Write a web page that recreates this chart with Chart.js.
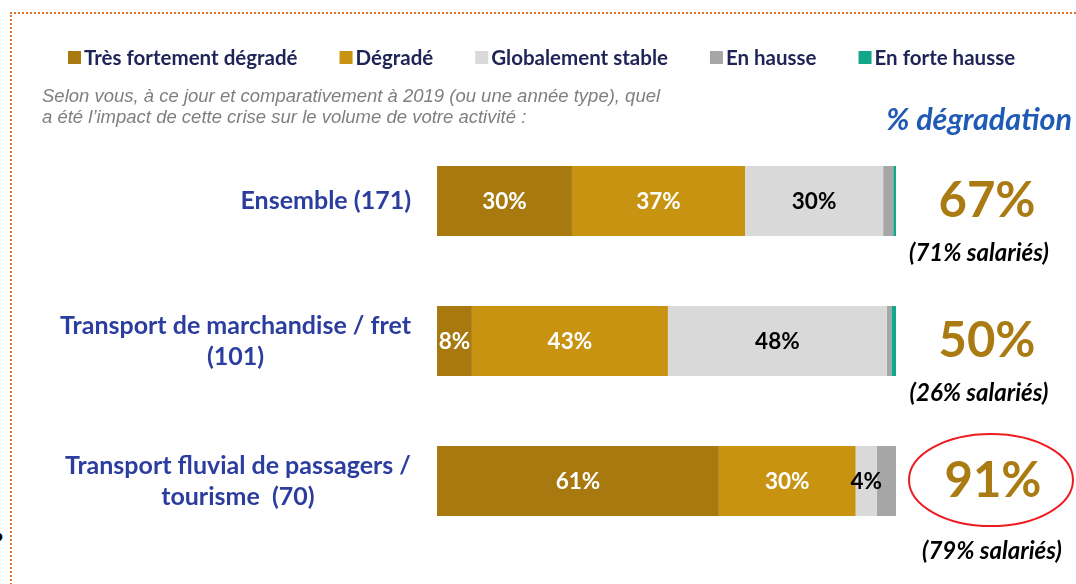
<!DOCTYPE html>
<html>
<head>
<meta charset="utf-8">
<script src="https://cdn.jsdelivr.net/npm/chart.js@4"></script>
<style>
  html, body { margin: 0; padding: 0; background: #fff; }
  #wrap { position: relative; width: 1076px; height: 584px; overflow: hidden; }
  #frame { position: absolute; left: 10px; top: 12px; right: -4px; bottom: -4px;
           border-top: 2px dotted #E2752E; border-left: 2px dotted #E2752E; }
  #cut { position: absolute; left: -7px; top: 528px; font: bold 22px Lato, sans-serif; color: #000; }
  canvas { position: absolute; left: 0; top: 0; }
</style>
</head>
<body>
<div id="wrap">
  <div id="frame"></div>
  <div id="cut">?</div>
  <canvas id="chart" width="1076" height="584"></canvas>
</div>
<script>
// categories (multi-line labels as in the source)
const categories = [
  ['Ensemble (171)'],
  ['Transport de marchandise / fret', '(101)'],
  ['Transport fluvial de passagers /', 'tourisme  (70)']
];

// series values (% of respondents)
const tresFortement = [29.4, 7.6, 61.4];
const degrade       = [37.7, 42.7, 29.8];
const stable        = [30.1, 47.7, 4.6];
const hausse        = [2.2, 1.0, 4.2];
const forteHausse   = [0.6, 1.0, 0];

// labels printed inside the segments
const tresFortementLabels = ['30%', '8%', '61%'];
const degradeLabels       = ['37%', '43%', '30%'];
const stableLabels        = ['30%', '48%', '4%'];

// right-hand column
const degradation = [67, 50, 91];
const salaries    = [71, 26, 79];

const subtitle = [
  'Selon vous, à ce jour et comparativement à 2019 (ou une année type), quel',
  'a été l\u2019impact de cette crise sur le volume de votre activité :'
];

const FONT = 'Lato, "Noto Sans", sans-serif';

const datasets = [
  { label: 'Très fortement dégradé', data: tresFortement, backgroundColor: '#A7790E', segLabels: tresFortementLabels, labelColor: '#fff' },
  { label: 'Dégradé', data: degrade, backgroundColor: '#C99312', segLabels: degradeLabels, labelColor: '#fff' },
  { label: 'Globalement stable', data: stable, backgroundColor: '#D9D9D9', segLabels: stableLabels, labelColor: '#000' },
  { label: 'En hausse', data: hausse, backgroundColor: '#A6A6A6' },
  { label: 'En forte hausse', data: forteHausse, backgroundColor: '#12A68A' }
];

const decorations = {
  id: 'decorations',
  afterDatasetsDraw(chart) {
    const ctx = chart.ctx;
    const y = chart.scales.y;
    ctx.save();

    // segment labels
    chart.data.datasets.forEach((ds, di) => {
      if (!ds.segLabels) return;
      const meta = chart.getDatasetMeta(di);
      meta.data.forEach((bar, i) => {
        const txt = ds.segLabels[i];
        if (!txt) return;
        ctx.font = 'bold 22.5px ' + FONT;
        ctx.fillStyle = ds.labelColor;
        ctx.textAlign = 'center';
        ctx.textBaseline = 'middle';
        ctx.fillText(txt, (bar.base + bar.x) / 2, bar.y + 1);
      });
    });

    // category labels: single line right aligned, multi-line centred
    ctx.font = 'bold 25px ' + FONT;
    ctx.fillStyle = '#2B3D9E';
    ctx.textBaseline = 'middle';
    const right = 411;
    categories.forEach((lines, i) => {
      const cy = y.getPixelForValue(i);
      if (lines.length === 1) {
        ctx.textAlign = 'right';
        ctx.fillText(lines[0], right, cy);
      } else {
        const w = Math.max(...lines.map(l => ctx.measureText(l).width));
        const cx = right - w / 2;
        ctx.textAlign = 'center';
        const lh = 31;
        lines.forEach((l, k) => ctx.fillText(l, cx, cy + (k - (lines.length - 1) / 2) * lh));
      }
    });

    // right column: % dégradation and salariés
    degradation.forEach((v, i) => {
      const cy = y.getPixelForValue(i);
      const cx = i === 2 ? 993 : 987;
      ctx.textAlign = 'center';
      ctx.font = 'bold 49px ' + FONT;
      ctx.fillStyle = '#A97B12';
      ctx.fillText(v + '%', cx, cy);
      ctx.font = 'italic bold 24px ' + FONT;
      ctx.fillStyle = '#000';
      const sx = i === 2 ? 992 : 979;
      const sy = i === 2 ? cy + 70 : cy + 52;
      ctx.fillText('(' + salaries[i] + '% salariés)', sx, sy);
    });

    // red ellipse around the last value
    const ey = y.getPixelForValue(2);
    ctx.beginPath();
    ctx.ellipse(991, ey - 1, 82, 46, 0, 0, Math.PI * 2);
    ctx.strokeStyle = '#EE1C22';
    ctx.lineWidth = 2;
    ctx.stroke();

    // header "% dégradation"
    ctx.font = 'italic bold 30.5px ' + FONT;
    ctx.fillStyle = '#1F5BB5';
    ctx.textAlign = 'right';
    ctx.fillText('% dégradation', 1072, 120);

    // subtitle
    ctx.font = 'italic 18.5px "Liberation Sans", Arial, sans-serif';
    ctx.fillStyle = '#7F7F7F';
    ctx.textAlign = 'left';
    ctx.fillText(subtitle[0], 42, 97);
    ctx.fillText(subtitle[1], 42, 118);

    // legend, built from the datasets
    ctx.font = 'bold 20.5px ' + FONT;
    let lx = 68;
    chart.data.datasets.forEach(ds => {
      ctx.fillStyle = ds.backgroundColor;
      ctx.fillRect(lx, 51, 13, 13);
      ctx.fillStyle = '#1E2456';
      ctx.textAlign = 'left';
      ctx.fillText(ds.label, lx + 16, 58);
      lx += 16 + ctx.measureText(ds.label).width + 42;
    });

    ctx.restore();
  }
};

new Chart(document.getElementById('chart').getContext('2d'), {
  type: 'bar',
  data: { labels: categories.map(c => c.join(' ')), datasets: datasets },
  options: {
    indexAxis: 'y',
    responsive: false,
    animation: false,
    layout: { padding: { left: 437, right: 180, top: 131, bottom: 33 } },
    datasets: { bar: { categoryPercentage: 1, barPercentage: 0.5, borderWidth: 0 } },
    scales: {
      x: { stacked: true, min: 0, max: 100, display: false },
      y: { stacked: true, display: false }
    },
    plugins: { legend: { display: false }, tooltip: { enabled: false } }
  },
  plugins: [decorations]
});
</script>
</body>
</html>
